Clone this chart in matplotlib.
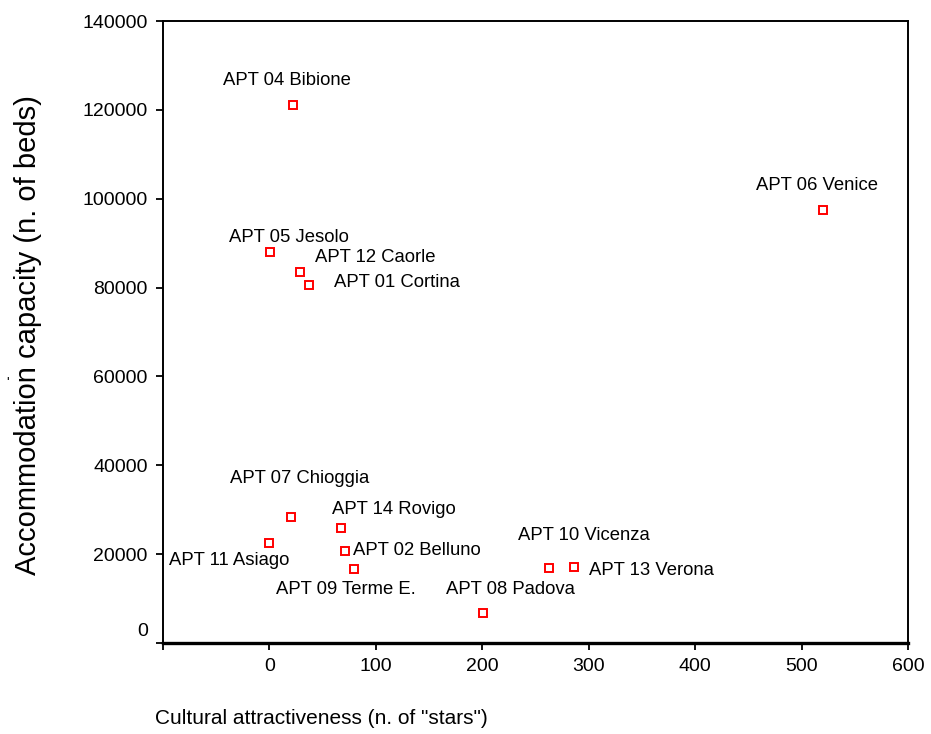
import matplotlib.pyplot as plt
from matplotlib.transforms import ScaledTranslation

plt.rcParams['font.family'] = ['Liberation Sans', 'DejaVu Sans']

# --- dados ---
nomes = ['APT 04 Bibione', 'APT 06 Venice', 'APT 05 Jesolo', 'APT 12 Caorle',
         'APT 01 Cortina', 'APT 07 Chioggia', 'APT 14 Rovigo', 'APT 11 Asiago',
         'APT 02 Belluno', 'APT 09 Terme E.', 'APT 08 Padova', 'APT 10 Vicenza',
         'APT 13 Verona']
estrelas = [22, 520, 1, 29, 37, 20, 67, 0, 71, 79, 201, 263, 286]
camas = [121000, 97400, 88000, 83400, 80500, 28300, 25800, 22600,
         20600, 16600, 6800, 16800, 17000]

# deslocamento dos rotulos (pixels, relativo ao ponto)
desloc = [(-70, 25), (-67, 25), (-41, 15), (15, 15), (25, 3), (-61, 39),
          (-9, 19), (-100, -18), (8, 1), (-78, -20), (-37, 23), (-31, 33),
          (15, -3)]

xticks = [-100, 0, 100, 200, 300, 400, 500, 600]
xticklabels = ['', '0', '100', '200', '300', '400', '500', '600']
yticks = list(range(0, 140001, 20000))

fig = plt.figure(figsize=(9.31, 7.34), dpi=100)
ax = fig.add_axes([163 / 931, 1 - 643 / 734, 745 / 931, 622 / 734])

ax.plot(estrelas, camas, 's', ms=6, mfc='white', mec='#ff0000', mew=1.4,
        linestyle='none', clip_on=False)

for nome, x, y, (dx, dy) in zip(nomes, estrelas, camas, desloc):
    ax.annotate(nome, (x, y), xytext=(dx, dy), textcoords='offset pixels',
                ha='left', va='center', fontsize=13.3)

ax.set_xlim(-100, 600)
ax.set_ylim(0, 140000)
ax.set_xticks(xticks)
ax.set_xticklabels(xticklabels)
ax.set_yticks(yticks)
ax.set_yticklabels([str(v) for v in yticks])
ax.tick_params(direction='out', length=5, width=1.3, labelsize=14, pad=6)

for lado in ['left', 'top', 'right']:
    ax.spines[lado].set_linewidth(1.4)
ax.spines['bottom'].set_linewidth(2.4)

# o "0" do eixo y fica um pouco acima no original
lbl0 = ax.get_yticklabels()[0]
lbl0.set_transform(lbl0.get_transform() + ScaledTranslation(0, 0.14, fig.dpi_scale_trans))

# titulos dos eixos (posicao como no original, nao centrados)
fig.text(321 / 931, 1 - 718 / 734, 'Cultural attractiveness (n. of "stars")',
         fontsize=15, ha='center', va='center')
fig.text(28 / 931, 1 - 335 / 734, 'Accommodation capacity (n. of beds)',
         fontsize=21, rotation=90, ha='center', va='center')
fig.text(8 / 931, 1 - 383 / 734, "'", fontsize=10, ha='center', va='center')

fig.savefig('out.png', dpi=100)
